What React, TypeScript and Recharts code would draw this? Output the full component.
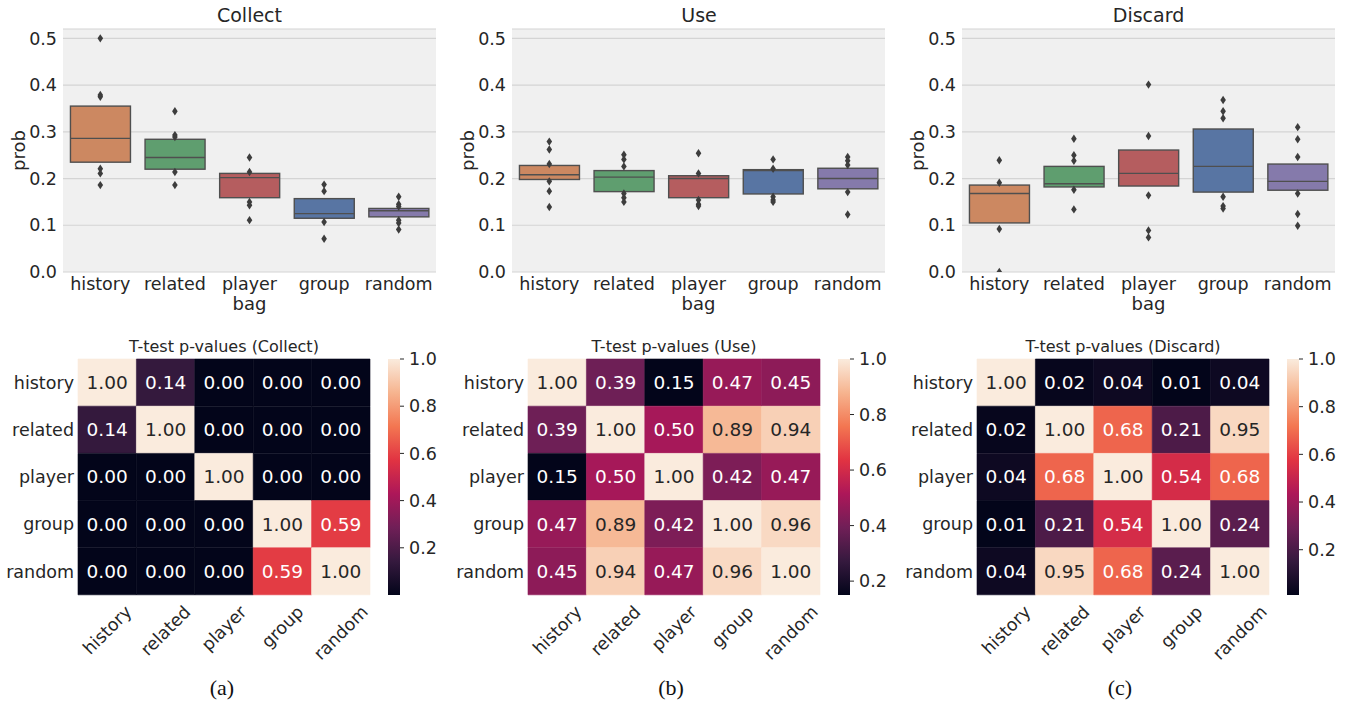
import React from 'react';
import {
  ComposedChart,
  BarChart,
  Bar,
  Scatter,
  XAxis,
  YAxis,
  CartesianGrid,
  Cell,
  LabelList,
} from 'recharts';

const BAGS = ['history', 'related', 'player', 'group', 'random'];
const BOX_COLORS = ['#cc8861', '#5f9e6f', '#b55d5f', '#5875a3', '#857aab'];
const PROB_TICKS = [0, 0.1, 0.2, 0.3, 0.4, 0.5];
const CBAR_TICKS = [0.2, 0.4, 0.6, 0.8, 1.0];
const CELL_TICKS = [0.5, 1.5, 2.5, 3.5, 4.5];

// Collect
const collectQ1 = [0.235, 0.22, 0.159, 0.115, 0.118];
const collectMed = [0.286, 0.245, 0.202, 0.125, 0.131];
const collectQ3 = [0.355, 0.284, 0.211, 0.157, 0.136];
const collectOut = [
  [0.5, 0.379, 0.375, 0.221, 0.211, 0.186],
  [0.344, 0.293, 0.289, 0.214, 0.186],
  [0.245, 0.214, 0.15, 0.143, 0.111],
  [0.187, 0.173, 0.107, 0.071],
  [0.161, 0.145, 0.14, 0.111, 0.105, 0.091],
];

// Use
const useQ1 = [0.198, 0.172, 0.159, 0.167, 0.178];
const useMed = [0.208, 0.203, 0.2, 0.217, 0.2];
const useQ3 = [0.228, 0.217, 0.206, 0.219, 0.222];
const useOut = [
  [0.279, 0.262, 0.231, 0.194, 0.173, 0.139],
  [0.251, 0.241, 0.226, 0.168, 0.159, 0.15],
  [0.254, 0.211, 0.154, 0.145, 0.141],
  [0.241, 0.221, 0.161, 0.154, 0.15],
  [0.246, 0.238, 0.229, 0.171, 0.123],
];

// Discard
const discardQ1 = [0.105, 0.182, 0.184, 0.171, 0.175];
const discardMed = [0.168, 0.189, 0.211, 0.226, 0.194];
const discardQ3 = [0.186, 0.226, 0.261, 0.306, 0.231];
const discardOut = [
  [0.239, 0.191, 0.092, 0.0],
  [0.285, 0.25, 0.238, 0.176, 0.134],
  [0.401, 0.291, 0.164, 0.089, 0.074],
  [0.368, 0.344, 0.329, 0.161, 0.141, 0.136],
  [0.31, 0.284, 0.246, 0.168, 0.124, 0.099],
];

// t-test p-values
const collectP = [
  [1.0, 0.14, 0.0, 0.0, 0.0],
  [0.14, 1.0, 0.0, 0.0, 0.0],
  [0.0, 0.0, 1.0, 0.0, 0.0],
  [0.0, 0.0, 0.0, 1.0, 0.59],
  [0.0, 0.0, 0.0, 0.59, 1.0],
];
const useP = [
  [1.0, 0.39, 0.15, 0.47, 0.45],
  [0.39, 1.0, 0.5, 0.89, 0.94],
  [0.15, 0.5, 1.0, 0.42, 0.47],
  [0.47, 0.89, 0.42, 1.0, 0.96],
  [0.45, 0.94, 0.47, 0.96, 1.0],
];
const discardP = [
  [1.0, 0.02, 0.04, 0.01, 0.04],
  [0.02, 1.0, 0.68, 0.21, 0.95],
  [0.04, 0.68, 1.0, 0.54, 0.68],
  [0.01, 0.21, 0.54, 1.0, 0.24],
  [0.04, 0.95, 0.68, 0.24, 1.0],
];

const INK = '#262626';
const FONT = '"DejaVu Sans", sans-serif';
const EDGE = '#4f4f4f';

// rocket colormap, sampled
const ROCKET: [number, string][] = [
  [0, '#03051a'],
  [0.143, '#35193e'],
  [0.286, '#701f57'],
  [0.429, '#ad1759'],
  [0.571, '#e13342'],
  [0.714, '#f37651'],
  [0.857, '#f6b48f'],
  [1, '#faebdd'],
];

const hexRgb = (h: string) => [1, 3, 5].map(k => parseInt(h.slice(k, k + 2), 16));

function rocketRgb(t: number) {
  const v = Math.max(0, Math.min(1, t));
  for (let k = 1; k < ROCKET.length; k++) {
    const [o1, c1] = ROCKET[k];
    if (v <= o1) {
      const [o0, c0] = ROCKET[k - 1];
      const f = (v - o0) / (o1 - o0);
      const a = hexRgb(c0);
      const b = hexRgb(c1);
      return a.map((x, i) => Math.round(x + (b[i] - x) * f));
    }
  }
  return hexRgb(ROCKET[ROCKET.length - 1][1]);
}

const rgbStr = (c: number[]) => `rgb(${c[0]},${c[1]},${c[2]})`;

function luminance(c: number[]) {
  const lin = c.map(x => {
    const s = x / 255;
    return s <= 0.03928 ? s / 12.92 : Math.pow((s + 0.055) / 1.055, 2.4);
  });
  return 0.2126 * lin[0] + 0.7152 * lin[1] + 0.0722 * lin[2];
}

let measureCtx: CanvasRenderingContext2D | null = null;
function textWidth(s: string, font: string) {
  if (!measureCtx) measureCtx = document.createElement('canvas').getContext('2d');
  if (!measureCtx) return s.length * 10;
  measureCtx.font = font;
  return measureCtx.measureText(s).width;
}

function BoxShape(props: any) {
  const { x, y, width, height, payload, fill } = props;
  const top = Math.min(y, y + height);
  const h = Math.abs(height);
  const my = top + (h * (payload.q3 - payload.med)) / (payload.q3 - payload.q1);
  return (
    <g>
      <rect x={x} y={top} width={width} height={h} fill={fill} stroke={EDGE} strokeWidth={1.4} />
      <line x1={x} x2={x + width} y1={my} y2={my} stroke={EDGE} strokeWidth={1.4} />
    </g>
  );
}

function Diamond(props: any) {
  const { cx, cy } = props;
  return (
    <path
      d={`M${cx},${cy - 4.2}L${cx + 2.8},${cy}L${cx},${cy + 4.2}L${cx - 2.8},${cy}Z`}
      fill="#3d3d3d"
    />
  );
}

function ProbLabel(props: any) {
  const { viewBox } = props;
  const cx = viewBox.x + 18;
  const cy = viewBox.y + viewBox.height / 2;
  return (
    <text
      x={cx}
      y={cy}
      transform={`rotate(-90 ${cx} ${cy})`}
      textAnchor="middle"
      dominantBaseline="central"
      fill={INK}
      fontSize={18}
      fontFamily={FONT}
    >
      prob
    </text>
  );
}

function BagLabel(props: any) {
  const { viewBox } = props;
  return (
    <text
      x={viewBox.x + viewBox.width / 2}
      y={viewBox.y + 38}
      textAnchor="middle"
      fill={INK}
      fontSize={18}
      fontFamily={FONT}
    >
      bag
    </text>
  );
}

function ProbPanel({ q1, med, q3, out }: { q1: number[]; med: number[]; q3: number[]; out: number[][] }) {
  const rows = BAGS.map((bag, i) => ({ bag, q1: q1[i], med: med[i], q3: q3[i], box: [q1[i], q3[i]] }));
  const points = BAGS.flatMap((bag, i) => out[i].map(v => ({ bag, v })));
  const tickStyle = { fill: INK, fontSize: 17.5, fontFamily: FONT };
  return (
    <ComposedChart
      width={450}
      height={320}
      data={rows}
      margin={{ top: 29, right: 14, bottom: 0, left: 0 }}
      barCategoryGap="10%"
    >
      <CartesianGrid vertical={false} fill="#f0f0f0" stroke="#d4d4d4" strokeWidth={1.2} />
      <XAxis
        dataKey="bag"
        allowDuplicatedCategory={false}
        interval={0}
        height={48}
        tickLine={false}
        axisLine={false}
        tickSize={0}
        tickMargin={6}
        tick={tickStyle}
        label={<BagLabel />}
      />
      <YAxis
        type="number"
        domain={[0, 0.52]}
        ticks={PROB_TICKS}
        allowDataOverflow
        width={63}
        tickLine={false}
        axisLine={false}
        tickSize={0}
        tickMargin={6}
        tick={tickStyle}
        tickFormatter={(v: number) => v.toFixed(1)}
        label={<ProbLabel />}
      />
      <Bar dataKey="box" shape={(p: any) => <BoxShape {...p} />} isAnimationActive={false}>
        {rows.map((r, i) => (
          <Cell key={r.bag} fill={BOX_COLORS[i]} />
        ))}
      </Bar>
      <Scatter data={points} dataKey="v" shape={(p: any) => <Diamond {...p} />} isAnimationActive={false} />
    </ComposedChart>
  );
}

function SlantTick(props: any) {
  const { x, y, payload } = props;
  const label = BAGS[Math.floor(payload.value)];
  const w = textWidth(label, `17.5px "DejaVu Sans"`);
  const cy = y + ((w + 17.5 * 1.1) * Math.SQRT1_2) / 2;
  return (
    <text
      x={x}
      y={cy}
      transform={`rotate(-45 ${x} ${cy})`}
      textAnchor="middle"
      dominantBaseline="central"
      fill={INK}
      fontSize={17.5}
      fontFamily={FONT}
    >
      {label}
    </text>
  );
}

function PHeatmap({ matrix }: { matrix: number[][] }) {
  const flat = matrix.flat();
  const vmin = Math.min(...flat);
  const vmax = Math.max(...flat);
  const rows = BAGS.map((bag, i) => {
    const r: any = { bag };
    matrix[i].forEach((p, j) => {
      r[`c${j}`] = 1;
      r[`p${j}`] = p;
    });
    return r;
  });
  const colorOf = (p: number) => rocketRgb((p - vmin) / (vmax - vmin));
  const CellText = (props: any) => {
    const { x, y, width, height, value } = props;
    const lum = luminance(colorOf(value));
    return (
      <text
        x={x + width / 2}
        y={y + height / 2}
        textAnchor="middle"
        dominantBaseline="central"
        fill={lum > 0.408 ? INK : '#ffffff'}
        fontSize={18.5}
        fontFamily={FONT}
      >
        {Number(value).toFixed(2)}
      </text>
    );
  };
  return (
    <BarChart
      layout="vertical"
      width={380}
      height={340}
      data={rows}
      margin={{ top: 29, right: 10, bottom: 0, left: 0 }}
      barCategoryGap={0}
      barGap={0}
    >
      <XAxis
        type="number"
        domain={[0, 5]}
        ticks={CELL_TICKS}
        interval={0}
        height={75}
        tickLine={false}
        axisLine={false}
        tickSize={0}
        tickMargin={7}
        tick={(p: any) => <SlantTick {...p} />}
      />
      <YAxis
        type="category"
        dataKey="bag"
        width={78}
        interval={0}
        tickLine={false}
        axisLine={false}
        tickSize={0}
        tickMargin={4}
        tick={{ fill: INK, fontSize: 17.5, fontFamily: FONT }}
      />
      {BAGS.map((col, j) => (
        <Bar key={col} dataKey={`c${j}`} stackId="m" isAnimationActive={false}>
          {rows.map(r => {
            const c = rgbStr(colorOf(r[`p${j}`]));
            return <Cell key={r.bag} fill={c} stroke={c} strokeWidth={0.6} />;
          })}
          <LabelList dataKey={`p${j}`} content={(p: any) => <CellText {...p} />} />
        </Bar>
      ))}
    </BarChart>
  );
}

function ColorBar({ matrix, id }: { matrix: number[][]; id: string }) {
  const flat = matrix.flat();
  const vmin = Math.min(...flat);
  const vmax = Math.max(...flat);
  const data = [{ k: 'cb', range: [vmin, vmax] }];
  return (
    <BarChart
      width={62}
      height={340}
      data={data}
      margin={{ top: 29, right: 0, bottom: 75, left: 0 }}
      barCategoryGap={0}
    >
      <defs>
        <linearGradient id={id} x1="0" y1="1" x2="0" y2="0">
          {ROCKET.map(([o, c]) => (
            <stop key={o} offset={o} stopColor={c} />
          ))}
        </linearGradient>
      </defs>
      <XAxis dataKey="k" hide />
      <YAxis
        orientation="right"
        type="number"
        domain={[vmin, vmax]}
        allowDataOverflow
        ticks={CBAR_TICKS}
        width={50}
        axisLine={false}
        tickLine={{ stroke: INK, strokeWidth: 1 }}
        tickSize={4}
        tickMargin={5}
        tick={{ fill: INK, fontSize: 17.5, fontFamily: FONT }}
        tickFormatter={(v: number) => v.toFixed(1)}
      />
      <Bar dataKey="range" fill={`url(#${id})`} isAnimationActive={false} />
    </BarChart>
  );
}

const place = (left: number, top: number): React.CSSProperties => ({ position: 'absolute', left, top });

export default function App() {
  return (
    <div style={{ position: 'absolute', left: 0, top: 0, width: 1359, height: 707, background: '#ffffff', fontFamily: FONT }}>
      <div style={place(0, 0)}>
        <ProbPanel q1={collectQ1} med={collectMed} q3={collectQ3} out={collectOut} />
      </div>
      <div style={place(449, 0)}>
        <ProbPanel q1={useQ1} med={useMed} q3={useQ3} out={useOut} />
      </div>
      <div style={place(899, 0)}>
        <ProbPanel q1={discardQ1} med={discardMed} q3={discardQ3} out={discardOut} />
      </div>

      <div style={place(0, 330)}>
        <PHeatmap matrix={collectP} />
      </div>
      <div style={place(450, 330)}>
        <PHeatmap matrix={useP} />
      </div>
      <div style={place(899, 330)}>
        <PHeatmap matrix={discardP} />
      </div>

      <div style={place(388, 330)}>
        <ColorBar matrix={collectP} id="cb-collect" />
      </div>
      <div style={place(838, 330)}>
        <ColorBar matrix={useP} id="cb-use" />
      </div>
      <div style={place(1287, 330)}>
        <ColorBar matrix={discardP} id="cb-discard" />
      </div>

      <svg width={1359} height={707} style={{ position: 'absolute', left: 0, top: 0, pointerEvents: 'none' }}>
        <g fill={INK} fontFamily={FONT} textAnchor="middle">
          <text x={249.5} y={22} fontSize={19}>Collect</text>
          <text x={699} y={22} fontSize={19}>Use</text>
          <text x={1148.5} y={22} fontSize={19}>Discard</text>
          <text x={224} y={352} fontSize={16}>T-test p-values (Collect)</text>
          <text x={674} y={352} fontSize={16}>T-test p-values (Use)</text>
          <text x={1123} y={352} fontSize={16}>T-test p-values (Discard)</text>
        </g>
        <g fill="#111111" fontFamily='"Liberation Serif", serif' fontSize={22} textAnchor="middle">
          <text x={222} y={695}>(a)</text>
          <text x={671} y={695}>(b)</text>
          <text x={1120} y={695}>(c)</text>
        </g>
      </svg>
    </div>
  );
}
